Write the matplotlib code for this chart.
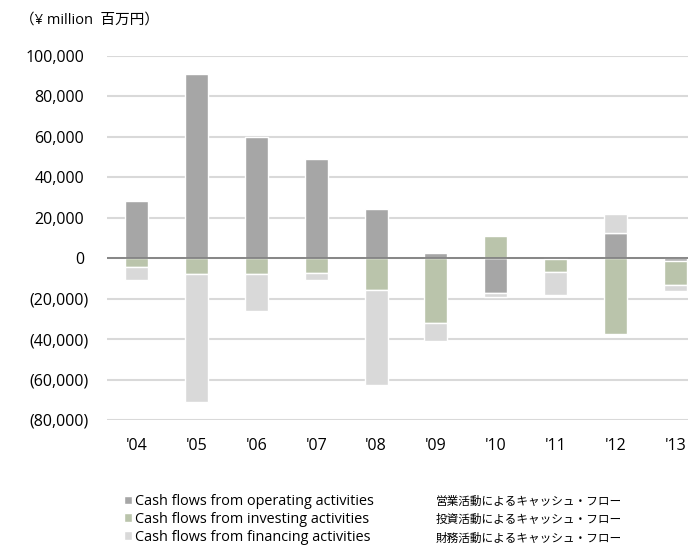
import matplotlib
matplotlib.use("Agg")
import matplotlib.pyplot as plt
import matplotlib.transforms as mtransforms
import numpy as np

years = ["'04", "'05", "'06", "'07", "'08", "'09", "'10", "'11", "'12", "'13"]
operating = [28500, 91000, 59700, 49100, 24400, 2700, -17300, -500, 12700, -1200]
investing = [-4450, -7900, -7900, -7300, -15700, -32200, 10900, -6300, -37300, -12000]
financing = [-6450, -63100, -18200, -3700, -47000, -8800, -1700, -11500, 9400, -3000]
series_en = ["Cash flows from operating activities",
             "Cash flows from investing activities",
             "Cash flows from financing activities"]
series_ja = ["営業活動によるキャッシュ・フロー",
             "投資活動によるキャッシュ・フロー",
             "財務活動によるキャッシュ・フロー"]
yticks = [-80000, -60000, -40000, -20000, 0, 20000, 40000, 60000, 80000, 100000]
unit_label = "（¥ million  百万円）"

colors = ["#a6a6a6", "#bac4ab", "#d9d9d9"]

plt.rcParams['font.family'] = ['Open Sans', 'Noto Sans CJK JP', 'DejaVu Sans']

W, H = 688, 545
fig = plt.figure(figsize=(W / 100, H / 100), dpi=100)
left_px, right_px = 106.5, 705.5
top_px, bot_px = 56, 420
ax = fig.add_axes([left_px / W, 1 - bot_px / H, (right_px - left_px) / W, (bot_px - top_px) / H])

x = np.arange(len(years))
width = 0.385
pos_base = np.zeros(len(years))
neg_base = np.zeros(len(years))
handles = []
for vals, c, lab in zip([operating, investing, financing], colors, series_en):
    v = np.array(vals, dtype=float)
    bottoms = np.where(v >= 0, pos_base, neg_base)
    b = ax.bar(x, v, width, bottom=bottoms, color=c, edgecolor="white", linewidth=1.0, label=lab, zorder=3)
    handles.append(b)
    pos_base = pos_base + np.where(v >= 0, v, 0)
    neg_base = neg_base + np.where(v < 0, v, 0)

ax.set_xlim(-0.5, len(years) - 0.5)
ax.set_ylim(-80000, 100000)
ax.set_yticks(yticks)
def fmt(v):
    if v < 0:
        return f"({-v:,.0f})"
    return f"{v:,.0f}"
ax.set_yticklabels([fmt(v) for v in yticks])
ax.set_xticks(x)
ax.set_xticklabels(years)
for s in ax.spines.values():
    s.set_visible(False)
ax.tick_params(axis='y', length=0, pad=12.6, labelsize=11.5, colors="#000000")
ax.tick_params(axis='x', length=0, pad=13, labelsize=11.5, colors="#000000")
ax.grid(axis='y', color="#d9d9d9", linewidth=1.5, zorder=0)
ax.set_axisbelow(True)
ax.axhline(0, color="#808080", linewidth=1.3, zorder=4)

shift = mtransforms.ScaledTranslation(-5 / 100, 0, fig.dpi_scale_trans)
for v, lbl in zip(yticks, ax.get_yticklabels()):
    if v >= 0:
        lbl.set_transform(lbl.get_transform() + shift)

fig.text(20 / W, 1 - 20 / H, unit_label, fontsize=10.5, va='center', ha='left')

leg = fig.legend(handles=handles, labels=series_en, loc='upper left',
                 bbox_to_anchor=(124 / W, 1 - 494 / H), frameon=False,
                 fontsize=10.4, handlelength=0.55, handleheight=0.55, handletextpad=0.2,
                 labelspacing=0.2, borderpad=0, borderaxespad=0)
for i, t in enumerate(series_ja):
    fig.text(436 / W, 1 - (501 + 18.5 * i) / H, t, fontsize=8.4, va='center', ha='left',
             family=['Noto Sans CJK JP'])

fig.savefig("out.png", dpi=100)
